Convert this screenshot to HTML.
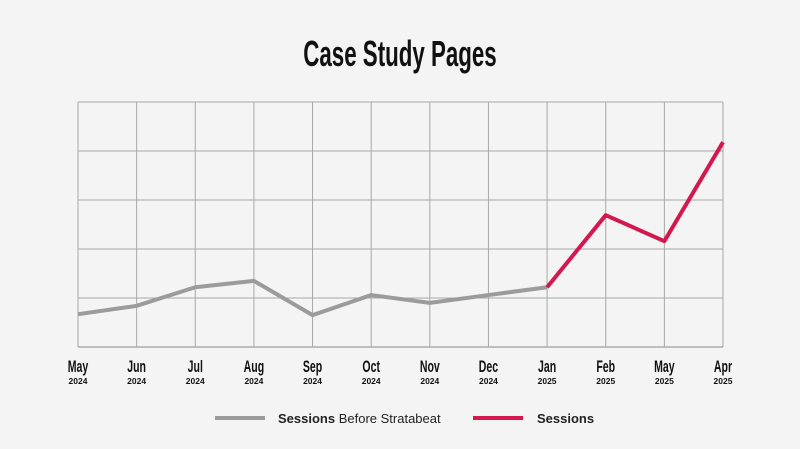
<!DOCTYPE html>
<html><head><meta charset="utf-8"><style>
html,body{margin:0;padding:0;background:#f4f4f4;}
svg{display:block;font-family:"Liberation Sans",sans-serif;}
</style></head><body>
<svg id="chart" width="800" height="449" viewBox="0 0 800 449" xmlns="http://www.w3.org/2000/svg">
<rect width="800" height="449" fill="#f4f4f4"/>
<text x="400" y="66" text-anchor="middle" font-size="36" font-weight="bold" fill="#111" transform="translate(400,0) scale(0.62,1) translate(-400,0)">Case Study Pages</text>
<g id="grid"></g>
<g id="xaxis"></g>
<g id="series"></g>
<g>
 <g>
  <line x1="215" y1="418" x2="265" y2="418" stroke="#9b9b9b" stroke-width="4"/>
  <text x="278" y="423" font-size="13" fill="#222"><tspan font-weight="bold">Sessions</tspan> Before Stratabeat</text>
 </g>
 <g>
  <line x1="473" y1="418" x2="523" y2="418" stroke="#d4174f" stroke-width="4"/>
  <text x="537" y="423" font-size="13" font-weight="bold" fill="#222">Sessions</text>
 </g>
</g>
</svg>
<script>
const months = ["May","Jun","Jul","Aug","Sep","Oct","Nov","Dec","Jan","Feb","May","Apr"];
const years = ["2024","2024","2024","2024","2024","2024","2024","2024","2025","2025","2025","2025"];
const beforeValues = [0.67,0.84,1.22,1.35,0.65,1.06,0.90,1.06,1.22];
const sessionValues = [1.22,2.69,2.16,4.18];
const sessionStart = 8;
const yTicks = [0,1,2,3,4,5];

const X0=78, X1=723, Y0=347, YU=49;
const xs = i => X0 + i*(X1-X0)/(months.length-1);
const ys = v => Y0 - v*YU;
const NS="http://www.w3.org/2000/svg";
function mk(tag, attrs, parent){const e=document.createElementNS(NS,tag);for(const k in attrs)e.setAttribute(k,attrs[k]);parent.appendChild(e);return e;}
const grid=document.getElementById('grid');
yTicks.forEach(t=>{
  const l=mk('line',{x1:X0,x2:X1,y1:ys(t),y2:ys(t),stroke:t===0?'#888':'#a8a8a8','stroke-width':1},grid);
  
  
});
months.forEach((m,i)=>{
  const l=mk('line',{x1:xs(i),x2:xs(i),y1:ys(yTicks[yTicks.length-1]),y2:Y0,stroke:'#a8a8a8','stroke-width':1},grid);
  
  
});
const xa=document.getElementById('xaxis');
months.forEach((m,i)=>{
  const x=xs(i);
  const t=mk('text',{x:x,y:372,'text-anchor':'middle','font-size':17,'font-weight':'bold',fill:'#111',transform:`translate(${x},0) scale(0.62,1) translate(${-x},0)`},xa);
  t.textContent=m;
  
  
  const y=mk('text',{x:x,y:384,'text-anchor':'middle','font-size':8.5,'font-weight':'bold',fill:'#111'},xa);
  y.textContent=years[i];
  
  
});
const sg=document.getElementById('series');
const p1=mk('polyline',{points:beforeValues.map((v,i)=>xs(i)+','+ys(v)).join(' '),fill:'none',stroke:'#9b9b9b','stroke-width':4,'stroke-linejoin':'round'},sg);


const p2=mk('polyline',{points:sessionValues.map((v,i)=>xs(i+sessionStart)+','+ys(v)).join(' '),fill:'none',stroke:'#d4174f','stroke-width':4,'stroke-linejoin':'round'},sg);


</script>
</body></html>
